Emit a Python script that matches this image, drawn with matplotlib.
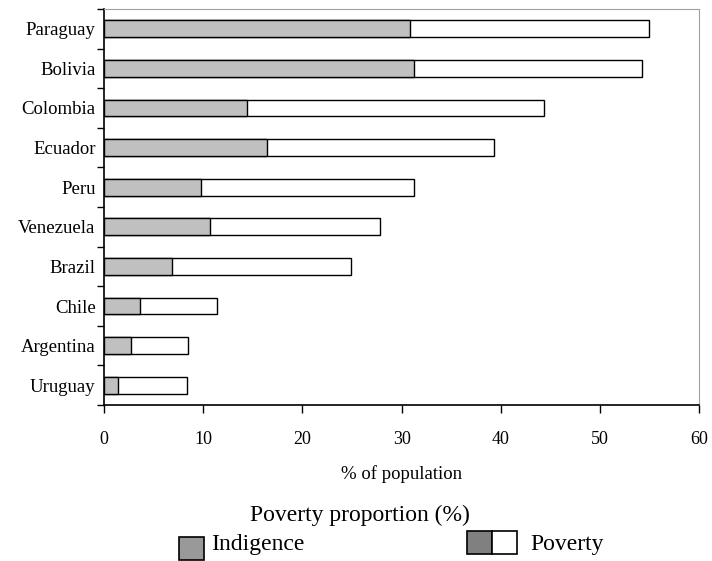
import numpy as np
import matplotlib.pyplot as plt
from matplotlib.patches import Rectangle

countries = ['Paraguay', 'Bolivia', 'Colombia', 'Ecuador', 'Peru',
             'Venezuela', 'Brazil', 'Chile', 'Argentina', 'Uruguay']
indigence = [30.8, 31.3, 14.4, 16.4, 9.8, 10.7, 6.9, 3.6, 2.7, 1.4]
poverty = [54.9, 54.2, 44.4, 39.3, 31.3, 27.8, 24.9, 11.4, 8.5, 8.4]
xticks = [0, 10, 20, 30, 40, 50, 60]

plt.rcParams['font.family'] = ['Liberation Serif', 'DejaVu Serif']

fig = plt.figure(figsize=(7.12, 5.61), dpi=100)
ax = fig.add_axes([0.146, 0.278, 0.836, 0.706])

y = np.arange(len(countries))[::-1]
bh = 0.42
# poverty bar is the full length, indigence drawn over it
ax.barh(y, poverty, height=bh, color='white', edgecolor='black', linewidth=1.0)
ax.barh(y, indigence, height=bh, color='#c0c0c0', edgecolor='black', linewidth=1.0)

ax.set_xlim(0, 60)
ax.set_ylim(-0.5, len(countries) - 0.5)
ax.set_xticks(xticks)
ax.set_yticks(y)
ax.set_yticklabels(countries, fontsize=13.5)
ax.tick_params(axis='y', length=0, pad=6)
ax.set_yticks(np.arange(len(countries) + 1) - 0.5, minor=True)
ax.tick_params(axis='y', which='minor', length=5, width=1, direction='out')
ax.tick_params(axis='x', length=6, width=1, labelsize=13, pad=13)
ax.set_xlabel('% of population', fontsize=13.5, labelpad=12)

for s in ['top', 'right']:
    ax.spines[s].set_color('#a0a0a0')
for s in ['left', 'bottom']:
    ax.spines[s].set_linewidth(1.2)

# legend drawn by hand to mimic the original
fig.text(0.506, 0.082, 'Poverty proportion (%)', fontsize=17, ha='center', va='center')
fig.patches.append(Rectangle((0.252, 0.002), 0.035, 0.041, transform=fig.transFigure,
                             facecolor='#999999', edgecolor='black', linewidth=1.2))
fig.text(0.296, 0.030, 'Indigence', fontsize=17, ha='left', va='center')
fig.patches.append(Rectangle((0.656, 0.013), 0.035, 0.041, transform=fig.transFigure,
                             facecolor='#808080', edgecolor='black', linewidth=1.2))
fig.patches.append(Rectangle((0.691, 0.013), 0.035, 0.041, transform=fig.transFigure,
                             facecolor='white', edgecolor='black', linewidth=1.2))
fig.text(0.745, 0.030, 'Poverty', fontsize=17, ha='left', va='center')

fig.savefig('out.png', dpi=100)
